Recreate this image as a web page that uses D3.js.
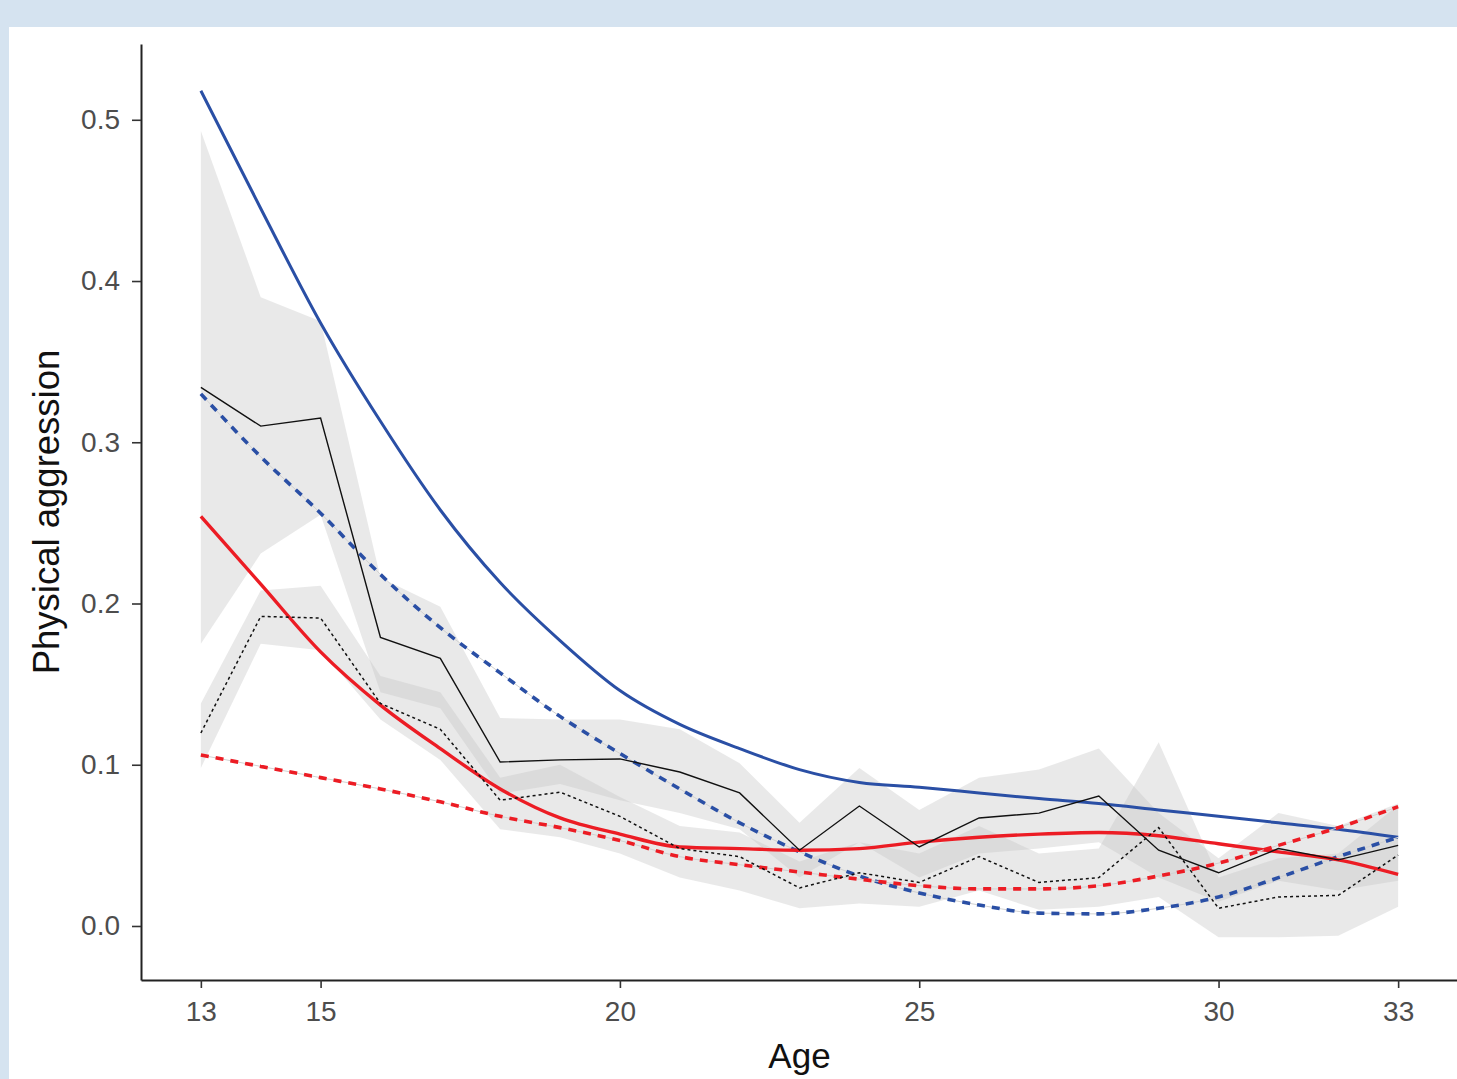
<!DOCTYPE html>
<html>
<head>
<meta charset="utf-8">
<script src="https://cdn.jsdelivr.net/npm/d3@7"></script>
<style>
  html, body { margin: 0; padding: 0; background: #d5e3f0; }
  svg { display: block; }
</style>
</head>
<body>
<div id="chart"></div>
<script>
// ages on the x axis
var ages = [13,14,15,16,17,18,19,20,21,22,23,24,25,26,27,28,29,30,31,32,33];

// model curves
var blueSolid  = [0.518,0.445,0.374,0.313,0.258,0.213,0.177,0.146,0.125,0.110,0.097,0.089,0.086,0.0825,0.079,0.076,0.072,0.068,0.064,0.060,0.055];
var blueDashed = [0.330,0.291,0.256,0.218,0.185,0.157,0.130,0.107,0.085,0.064,0.046,0.031,0.0205,0.013,0.008,0.0075,0.011,0.018,0.030,0.043,0.055];
var redSolid   = [0.254,0.212,0.170,0.137,0.110,0.085,0.067,0.057,0.049,0.048,0.047,0.048,0.052,0.055,0.057,0.058,0.056,0.051,0.046,0.041,0.032];
var redDashed  = [0.106,0.099,0.092,0.085,0.077,0.068,0.061,0.053,0.043,0.038,0.0335,0.029,0.025,0.023,0.023,0.025,0.031,0.039,0.050,0.061,0.074];

// observed means
var obsSolid  = [0.334,0.310,0.315,0.179,0.166,0.1017,0.103,0.1036,0.0955,0.0825,0.047,0.0744,0.049,0.067,0.070,0.0806,0.047,0.033,0.048,0.041,0.050];
var obsDotted = [0.1197,0.192,0.191,0.138,0.122,0.078,0.083,0.068,0.048,0.043,0.0236,0.033,0.027,0.043,0.027,0.030,0.061,0.011,0.018,0.019,0.044];

// confidence bands of the observed means
var solidLo  = [0.175,0.231,0.255,0.145,0.135,0.082,0.088,0.078,0.070,0.060,0.030,0.052,0.030,0.045,0.048,0.052,0.030,0.015,0.028,0.022,0.028];
var solidHi  = [0.493,0.390,0.375,0.216,0.198,0.129,0.128,0.128,0.122,0.101,0.064,0.098,0.072,0.092,0.097,0.110,0.070,0.042,0.070,0.062,0.076];
var dottedLo = [0.098,0.175,0.171,0.128,0.103,0.060,0.055,0.045,0.030,0.022,0.011,0.014,0.012,0.022,0.010,0.012,0.018,-0.007,-0.007,-0.006,0.012];
var dottedHi = [0.138,0.208,0.211,0.155,0.145,0.092,0.100,0.080,0.062,0.058,0.040,0.052,0.045,0.062,0.045,0.048,0.114,0.030,0.042,0.045,0.075];

var xTicks = [13,15,20,25,30,33];
var yTicks = [0.0,0.1,0.2,0.3,0.4,0.5];

var W = 1457, H = 1079;
var panel = { left: 141, right: 1458, top: 44, bottom: 980 };

var svg = d3.select("#chart").append("svg")
    .attr("width", W)
    .attr("height", H);

// white card on the blue page
svg.append("rect")
    .attr("x", 9).attr("y", 27)
    .attr("width", W - 9).attr("height", H - 27)
    .attr("fill", "#ffffff");

var x = d3.scaleLinear().domain([12, 34]).range([panel.left, panel.right]);
var y = d3.scaleLinear().domain([-0.0335, 0.547]).range([panel.bottom, panel.top]);

function pts(vals) {
  return ages.map(function(a, i) { return { age: a, v: vals[i] }; });
}
function band(lo, hi) {
  return ages.map(function(a, i) { return { age: a, lo: lo[i], hi: hi[i] }; });
}

var area = d3.area()
    .x(function(d) { return x(d.age); })
    .y0(function(d) { return y(d.lo); })
    .y1(function(d) { return y(d.hi); });

var line = d3.line()
    .x(function(d) { return x(d.age); })
    .y(function(d) { return y(d.v); });

var smooth = d3.line()
    .curve(d3.curveMonotoneX)
    .x(function(d) { return x(d.age); })
    .y(function(d) { return y(d.v); });

// ribbons
[band(solidLo, solidHi), band(dottedLo, dottedHi)].forEach(function(b) {
  svg.append("path")
    .attr("d", area(b))
    .attr("fill", "#c4c4c4")
    .attr("fill-opacity", 0.38);
});

// model curves
var models = [
  { vals: blueSolid,  color: "#2a4fa5", dash: null,  w: 3 },
  { vals: blueDashed, color: "#2a4fa5", dash: "8,7", w: 3.6 },
  { vals: redSolid,   color: "#ec1c24", dash: null,  w: 3.4 },
  { vals: redDashed,  color: "#ec1c24", dash: "8,7", w: 3.6 }
];

models.forEach(function(m) {
  if (m.dash) {
    // faint guide under the dashes
    svg.append("path")
      .attr("d", smooth(pts(m.vals)))
      .attr("fill", "none")
      .attr("stroke", "#d2d2d2")
      .attr("stroke-width", 1);
  }
  svg.append("path")
    .attr("d", smooth(pts(m.vals)))
    .attr("fill", "none")
    .attr("stroke", m.color)
    .attr("stroke-width", m.w)
    .attr("stroke-dasharray", m.dash);
});

// observed lines
svg.append("path")
    .attr("d", line(pts(obsSolid)))
    .attr("fill", "none")
    .attr("stroke", "#111")
    .attr("stroke-width", 1.4);

svg.append("path")
    .attr("d", line(pts(obsDotted)))
    .attr("fill", "none")
    .attr("stroke", "#111")
    .attr("stroke-width", 1.5)
    .attr("stroke-dasharray", "3,3");

// axes
var xAxis = d3.axisBottom(x).tickValues(xTicks).tickSize(8).tickSizeOuter(0).tickPadding(13)
    .tickFormat(d3.format("d"));
var yAxis = d3.axisLeft(y).tickValues(yTicks).tickSize(9).tickSizeOuter(0).tickPadding(12)
    .tickFormat(d3.format(".1f"));

var gx = svg.append("g")
    .attr("transform", "translate(0," + panel.bottom + ")")
    .call(xAxis);
var gy = svg.append("g")
    .attr("transform", "translate(" + panel.left + ",0)")
    .call(yAxis);

[gx, gy].forEach(function(g) {
  g.select(".domain").attr("stroke", "#222").attr("stroke-width", 2);
  g.selectAll(".tick line").attr("stroke", "#333").attr("stroke-width", 1.6);
  g.selectAll(".tick text")
    .attr("fill", "#4d4d4d")
    .style("font-family", "'Liberation Sans', Arial, sans-serif")
    .style("font-size", "28px");
});

// axis titles
svg.append("text")
    .attr("x", (panel.left + panel.right) / 2)
    .attr("y", 1068)
    .attr("text-anchor", "middle")
    .style("font-family", "'Liberation Sans', Arial, sans-serif")
    .style("font-size", "35px")
    .attr("fill", "#111")
    .text("Age");

svg.append("text")
    .attr("transform", "translate(59," + ((panel.top + panel.bottom) / 2) + ") rotate(-90)")
    .attr("text-anchor", "middle")
    .style("font-family", "'Liberation Sans', Arial, sans-serif")
    .style("font-size", "36.5px")
    .attr("fill", "#111")
    .text("Physical aggression");
</script>
</body>
</html>
